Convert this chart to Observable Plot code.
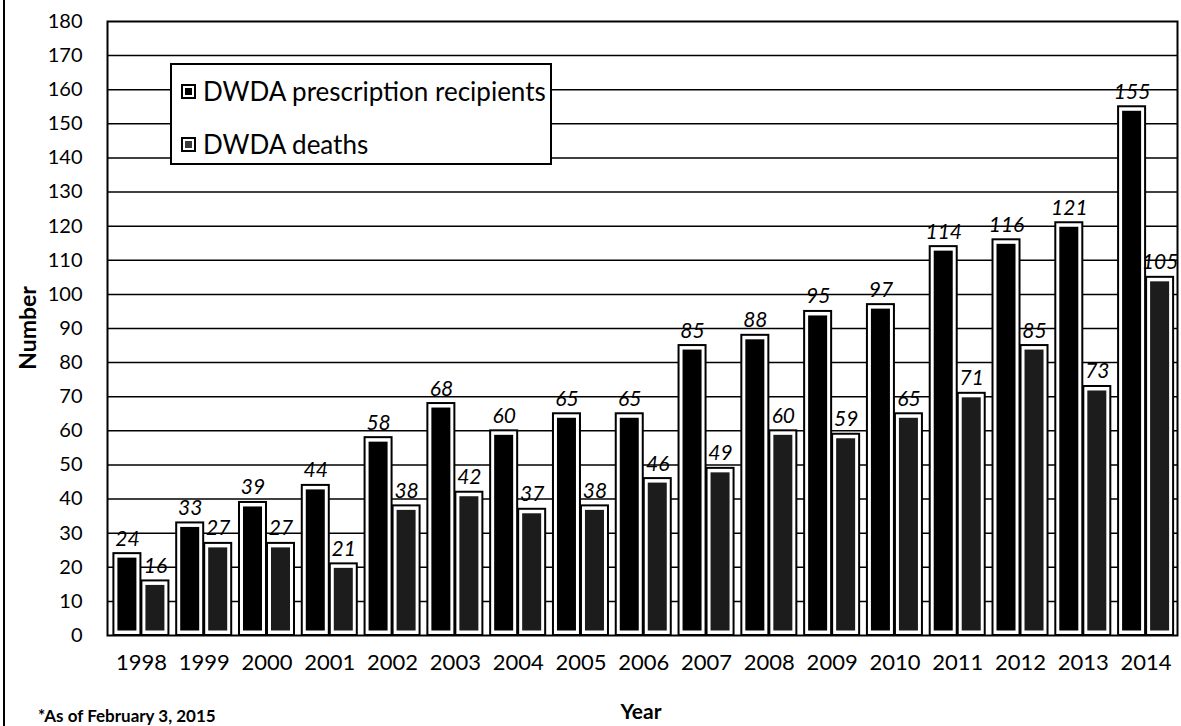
<!DOCTYPE html>
<html>
<head>
<meta charset="utf-8">
<script src="https://cdn.jsdelivr.net/npm/d3@7"></script>
<script src="https://cdn.jsdelivr.net/npm/@observablehq/plot@0.6"></script>
<style>
  html, body { margin: 0; padding: 0; background: #fff; }
  #wrap { position: relative; width: 1181px; height: 726px; overflow: hidden; font-family: Lato, "Open Sans", sans-serif; color: #000; }
  #leftline { position: absolute; left: 3px; top: 0; width: 2px; height: 726px; background: #000; }
  #legend { position: absolute; left: 170px; top: 63px; width: 382px; height: 102px; background: #fff; border: 2px solid #000; box-sizing: border-box; }
  .row { position: absolute; left: 9px; display: flex; align-items: center; font-size: 26px; line-height: 1; white-space: nowrap; }
  .sw { width: 15px; height: 15px; box-sizing: border-box; border: 2px solid #000; background: #fff; margin-right: 7px; position: relative; }
  .sw i { position: absolute; left: 2px; top: 2px; width: 7px; height: 7px; background: #000; }
  .sw.d i { background: #3a3a3a; }
  .ttl { position: absolute; font-weight: bold; font-size: 21px; white-space: nowrap; }
  #chart svg [aria-label^="x-axis"] text { font-size: 22px; }
  #chart svg [aria-label^="y-axis"] text { font-size: 20px; }
</style>
</head>
<body>
<div id="wrap">
  <div id="chart"></div>
  <div id="leftline"></div>
  <div id="legend">
    <div class="row" style="top:13px"><span class="sw"><i></i></span>DWDA prescription recipients</div>
    <div class="row" style="top:66px"><span class="sw d"><i></i></span>DWDA deaths</div>
  </div>
  <div class="ttl" style="left:27px; top:328px; font-size:23px; transform: translate(-50%,-50%) rotate(-90deg);">Number</div>
  <div class="ttl" style="left:641px; top:710px; transform: translate(-50%,-50%);">Year</div>
  <div class="ttl" style="left:38px; top:705px; font-size:17px;">*As of February 3, 2015</div>
</div>
<script>
const years = [1998,1999,2000,2001,2002,2003,2004,2005,2006,2007,2008,2009,2010,2011,2012,2013,2014];
const recipients = [24,33,39,44,58,68,60,65,65,85,88,95,97,114,116,121,155];
const deaths = [16,27,27,21,38,42,37,38,46,49,60,59,65,71,85,73,105];
const seriesNames = ["DWDA prescription recipients", "DWDA deaths"];
const yTicks = d3.range(0, 181, 10);
const gridLines = d3.range(10, 180, 10);

const half = 0.446;
const data = years.flatMap((yr, i) => [
  {year: yr, s: 0, series: seriesNames[0], value: recipients[i], x1: yr - half, x2: yr, xc: yr - half / 2},
  {year: yr, s: 1, series: seriesNames[1], value: deaths[i], x1: yr, x2: yr + half, xc: yr + half / 2}
]);

const chart = Plot.plot({
  width: 1181,
  height: 700,
  marginLeft: 107,
  marginRight: 4,
  marginTop: 21,
  marginBottom: 65,
  style: {fontFamily: "Lato, 'Open Sans', sans-serif", fontSize: "20px", color: "#000", background: "transparent"},
  x: {domain: [1997.46, 2014.5], ticks: years, tickFormat: d => String(d), tickSize: 0, tickPadding: 19, label: null},
  y: {domain: [0, 180], ticks: yTicks, tickSize: 0, tickPadding: 25, label: null},
  marks: [
    Plot.ruleY(gridLines, {stroke: "#000", strokeWidth: 1.5}),
    Plot.rectY(data, {x1: "x1", x2: "x2", y: "value", fill: "#fff", stroke: "#000", strokeWidth: 2, insetLeft: 0.5, insetRight: 0.5}),
    Plot.rectY(data, {x1: "x1", x2: "x2", y: "value", fill: d => d.s === 0 ? "#000" : "#1c1c1c", inset: 4.5}),
    Plot.text(data, {x: "xc", y: "value", text: d => String(d.value), lineAnchor: "bottom", dy: -8, fontStyle: "italic", fontSize: 21, fill: "#000"}),
    Plot.frame({stroke: "#000", strokeWidth: 2})
  ]
});
document.getElementById("chart").appendChild(chart);
</script>
</body>
</html>
